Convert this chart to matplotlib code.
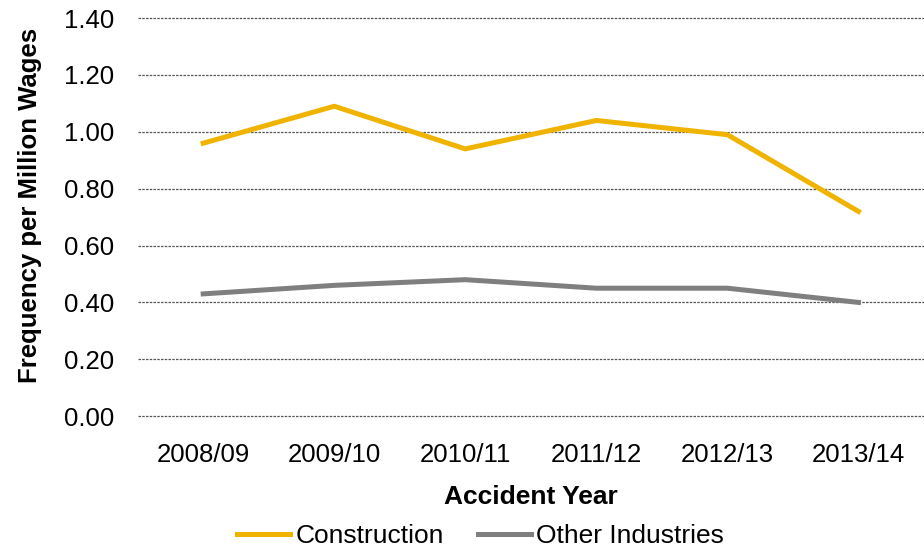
import numpy as np
import matplotlib.pyplot as plt

plt.rcParams['font.family'] = ['Liberation Sans', 'DejaVu Sans']

years = ['2008/09', '2009/10', '2010/11', '2011/12', '2012/13', '2013/14']
construction = [0.96, 1.09, 0.94, 1.04, 0.99, 0.72]
other_industries = [0.43, 0.46, 0.48, 0.45, 0.45, 0.40]

fig = plt.figure(figsize=(9.24, 5.49), dpi=100)
ax = fig.add_axes([0.149, 0.242, 0.851, 0.725])

x = np.arange(len(years))
ax.plot(x, construction, color='#F0B400', linewidth=3.6, label='Construction')
ax.plot(x, other_industries, color='#7F7F7F', linewidth=3.6, label='Other Industries')

ax.set_xlim(-0.5, len(years) - 0.5)
ax.set_ylim(0, 1.4)
ticks = np.arange(0, 1.41, 0.2)
ax.set_yticks(ticks)
ax.set_yticklabels([f"{v:.2f}" for v in ticks])
ax.set_xticks(x)
ax.set_xticklabels(years)
ax.tick_params(axis='both', length=0, labelsize=18.5)
ax.tick_params(axis='y', pad=17)
ax.tick_params(axis='x', pad=19)

ax.yaxis.grid(True, linestyle=(0, (2, 1)), color='#555555', linewidth=0.9)
for gl in ax.get_ygridlines():
    gl.set_clip_on(False)
ax.set_axisbelow(True)
for s in ax.spines.values():
    s.set_visible(False)

ax.set_xlabel('Accident Year', fontsize=19, fontweight='bold', labelpad=13)
ax.set_ylabel('Frequency per Million Wages', fontsize=18.5, fontweight='bold')
ax.yaxis.set_label_coords(-0.122, 0.53)

fig.legend(loc='center', bbox_to_anchor=(0.52, 0.024), ncol=2, frameon=False,
           fontsize=19, handlelength=2.0, handletextpad=0.2, columnspacing=1.3)

fig.savefig('out.png', dpi=100)
